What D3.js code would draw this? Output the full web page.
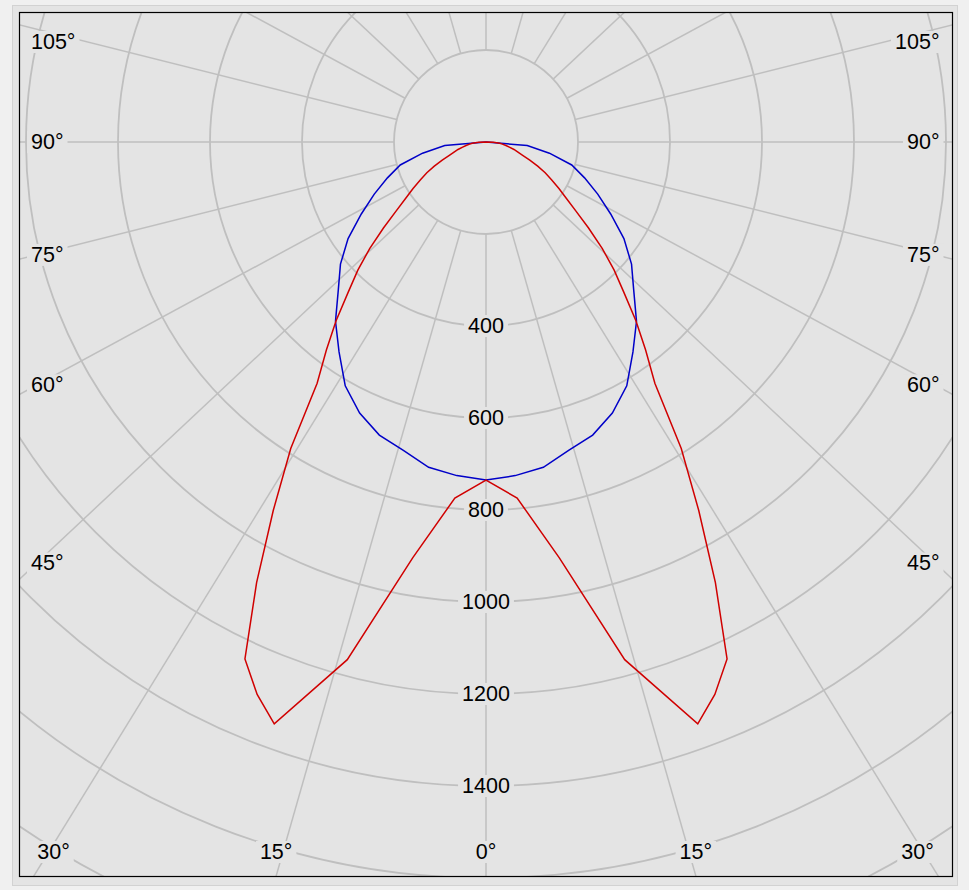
<!DOCTYPE html>
<html>
<head>
<meta charset="utf-8">
<script src="https://cdn.jsdelivr.net/npm/d3@7"></script>
<style>
  html, body { margin: 0; padding: 0; background: #f0f0f0; }
  svg { display: block; }
  text { font-family: "Liberation Sans", Arial, sans-serif; font-size: 21.5px; fill: #000; }
</style>
</head>
<body>
<svg id="chart" width="969" height="890"></svg>
<script>
// ---------------- data ----------------
const redAngles   = [0, 5, 10, 15, 20, 22.5, 25, 27.5, 30, 32.5, 35, 37.5, 40, 42.5, 45, 47.5, 50, 52.5, 55, 57.5, 60, 62.5, 65, 67.5, 70, 72.5, 75, 77.5, 80, 82.5, 85, 87.5, 90];
const redValues   = [735, 777, 918, 1165, 1346, 1300, 1240, 1080, 925, 790, 640, 570, 507, 444, 394, 343, 291, 246, 213, 188, 165, 145, 124, 103, 84, 72, 63, 52, 44, 36, 30, 16, 0];
const blueAngles  = [0, 5, 10, 15, 20, 25, 30, 35, 40, 45, 50, 55, 60, 65, 70, 75, 80, 85, 90];
const blueValues  = [735, 728, 718, 694, 678, 650, 612, 557, 509, 454, 413, 366, 313, 268, 228, 193, 140, 90, 0];
const ringValues  = [200, 400, 600, 800, 1000, 1200, 1400, 1600, 1800];
const ringLabels  = [400, 600, 800, 1000, 1200, 1400];
const spokeAngles = [0, 15, 30, 45, 60, 75, 90, 105, 120, 135, 150, 165, 180, 195, 210, 225, 240, 255, 270, 285, 300, 315, 330, 345];
const angleLabels = [0, 15, 30, 45, 60, 75, 90, 105];

// ---------------- layout ----------------
const svg = d3.select("#chart");
const frame = { x0: 20, y0: 13, x1: 952, y1: 876 };
const cx = (frame.x0 + frame.x1) / 2;
const cy = 142;
const gridColor = "#bfbfbf";
const plotBg = "#e4e4e4";
const spokeSkew = 1.067;      // horizontal stretch of the spoke directions
const sidePull = 0.965;       // side labels sit slightly inside the frame

const r = d3.scaleLinear().domain([0, 1400]).range([0, 644]);
const rad = d => d * Math.PI / 180;

// outer panel
svg.append("rect").attr("x", 12.5).attr("y", 5.5).attr("width", 945).attr("height", 880)
  .attr("fill", plotBg).attr("stroke", "#d2d2d2").attr("stroke-width", 1);

svg.append("defs").append("clipPath").attr("id", "plotClip")
  .append("rect").attr("x", frame.x0).attr("y", frame.y0)
  .attr("width", frame.x1 - frame.x0).attr("height", frame.y1 - frame.y0);

svg.append("rect").attr("x", frame.x0).attr("y", frame.y0)
  .attr("width", frame.x1 - frame.x0).attr("height", frame.y1 - frame.y0)
  .attr("fill", plotBg);

const plot = svg.append("g").attr("clip-path", "url(#plotClip)");
const g = plot.append("g").attr("transform", `translate(${cx},${cy})`);

// rings
g.selectAll("circle.ring").data(ringValues).join("circle")
  .attr("class", "ring").attr("r", d => r(d))
  .attr("fill", "none").attr("stroke", gridColor).attr("stroke-width", 1.8);

// spokes
function dirOf(deg, side) {
  const dx = side * spokeSkew * Math.sin(rad(deg));
  const dy = Math.cos(rad(deg));
  const n = Math.hypot(dx, dy);
  return [dx / n, dy / n];
}
g.selectAll("line.spoke").data(spokeAngles).join("line")
  .attr("class", "spoke")
  .attr("x1", d => dirOf(d, 1)[0] * r(200))
  .attr("y1", d => dirOf(d, 1)[1] * r(200))
  .attr("x2", d => dirOf(d, 1)[0] * r(3000))
  .attr("y2", d => dirOf(d, 1)[1] * r(3000))
  .attr("stroke", gridColor).attr("stroke-width", 1.5);

// labels with background boxes
const labelLayer = plot.append("g");
function addLabel(x, y, txt, anchor) {
  const grp = labelLayer.append("g");
  const bgRect = grp.append("rect").attr("fill", plotBg);
  const t = grp.append("text").attr("x", x).attr("y", y)
    .attr("text-anchor", anchor).attr("dominant-baseline", "central").text(txt);
  const bb = t.node().getBBox();
  bgRect.attr("x", bb.x - 4).attr("y", bb.y + 1).attr("width", bb.width + 8).attr("height", bb.height - 2);
}

ringLabels.forEach(v => addLabel(cx, cy + r(v), String(v), "middle"));

angleLabels.forEach(a => {
  const sides = a === 0 ? [1] : [-1, 1];
  sides.forEach(side => {
    const [dx, dy] = dirOf(a, side);
    const tx = dx > 1e-9 ? (frame.x1 - cx) / dx : dx < -1e-9 ? (frame.x0 - cx) / dx : Infinity;
    const ty = dy > 1e-9 ? (frame.y1 - cy) / dy : dy < -1e-9 ? (frame.y0 - cy) / dy : Infinity;
    const txt = a + "\u00B0";
    if (ty <= tx) {
      const hx = cx + dx * ty;
      addLabel(Math.max(53.5, Math.min(917.5, hx)), frame.y1 - 24, txt, "middle");
    } else {
      const ay = cy + dy * tx * sidePull;
      if (side < 0) addLabel(frame.x0 + 11, Math.max(42, ay), txt, "start");
      else addLabel(frame.x1 - 12.5, Math.max(42, ay), txt, "end");
    }
  });
});

// curves
function fullCurve(angs, vals) {
  const left = angs.map((a, i) => ({ a: -a, v: vals[i] })).reverse();
  const right = angs.slice(1).map((a, i) => ({ a: a, v: vals[i + 1] }));
  return left.concat(right);
}
const radial = d3.lineRadial()
  .angle(d => Math.PI - rad(d.a))
  .radius(d => r(d.v));

const curves = plot.append("g").attr("transform", `translate(${cx},${cy})`);
curves.append("path").attr("d", radial(fullCurve(blueAngles, blueValues)))
  .attr("fill", "none").attr("stroke", "#0000c8").attr("stroke-width", 1.5);
curves.append("path").attr("d", radial(fullCurve(redAngles, redValues)))
  .attr("fill", "none").attr("stroke", "#d00000").attr("stroke-width", 1.5);

// frame border
svg.append("rect").attr("x", frame.x0 - 0.5).attr("y", frame.y0 - 0.5)
  .attr("width", frame.x1 - frame.x0 + 1).attr("height", frame.y1 - frame.y0 + 1)
  .attr("fill", "none").attr("stroke", "#000").attr("stroke-width", 1.2);
</script>
</body>
</html>
